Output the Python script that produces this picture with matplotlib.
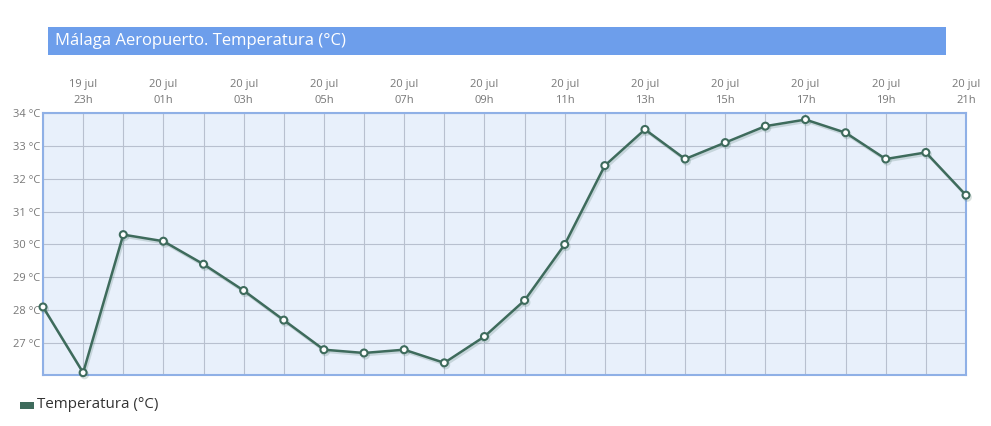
import numpy as np
import matplotlib.pyplot as plt
import matplotlib.patheffects as pe
from matplotlib.patches import Rectangle

# datos: temperatura horaria, 19 jul 22h -> 20 jul 21h
horas = ['22h', '23h', '00h', '01h', '02h', '03h', '04h', '05h', '06h', '07h', '08h', '09h',
         '10h', '11h', '12h', '13h', '14h', '15h', '16h', '17h', '18h', '19h', '20h', '21h']
dias = ['19 jul', '19 jul'] + ['20 jul'] * 22
temperatura = [28.1, 26.1, 30.3, 30.1, 29.4, 28.6, 27.7, 26.8, 26.7, 26.8, 26.4, 27.2,
               28.3, 30.0, 32.4, 33.5, 32.6, 33.1, 33.6, 33.8, 33.4, 32.6, 32.8, 31.5]
y_ticks = [27, 28, 29, 30, 31, 32, 33, 34]

plt.rcParams['font.family'] = ['Open Sans', 'DejaVu Sans']

W, H = 991, 426
fig = plt.figure(figsize=(W / 100, H / 100), dpi=100)

def px(x0, y0, x1, y1):
    # caja en pixeles -> fraccion de figura
    return [x0 / W, 1 - y1 / H, (x1 - x0) / W, (y1 - y0) / H]

ax = fig.add_axes(px(43, 113, 966, 375))
ax.set_facecolor('#e8f0fb')

x = np.arange(len(temperatura))
ax.plot(x, temperatura, color='#3e6b5c', lw=1.8, marker='o', ms=5,
        mfc='white', mec='#3e6b5c', mew=1.5, zorder=3, clip_on=False,
        path_effects=[pe.SimpleLineShadow(offset=(1, -1.5), shadow_color='#3e6b5c', alpha=0.2),
                      pe.Normal()])

ax.set_xlim(0, len(temperatura) - 1)
ax.set_ylim(26.03, 34)
ax.set_xticks(x, minor=True)
sel = x[1::2]
ax.set_xticks(sel)
ax.set_xticklabels([f'{dias[i]}\n{horas[i]}' for i in sel], fontsize=8, color='#777777',
                   linespacing=1.6)
ax.xaxis.tick_top()
ax.set_yticks(y_ticks)
ax.set_yticklabels([f'{v} °C' for v in y_ticks], fontsize=8, color='#777777')
ax.tick_params(axis='both', which='both', length=0, pad=2)
ax.tick_params(axis='x', pad=5)
ax.grid(True, which='both', color='#b8c0cf', lw=0.8)
ax.set_axisbelow(True)
for s in ax.spines.values():
    s.set_color('#8fb0e6')
    s.set_linewidth(1.5)

# barra de titulo
caja = px(48, 27, 946, 55)
fig.add_artist(Rectangle(caja[:2], caja[2], caja[3],
                         transform=fig.transFigure, color='#6d9eeb', lw=0))
fig.text(55 / W, 1 - 41 / H, 'Málaga Aeropuerto. Temperatura (°C)', color='white',
         fontsize=12, va='center', ha='left')

# leyenda
fig.add_artist(Rectangle(px(20, 402, 34, 409)[:2], 14 / W, 7 / H,
                         transform=fig.transFigure, color='#3e6b5c', lw=0))
fig.text(37 / W, 1 - 405 / H, 'Temperatura (°C)', color='#333333', fontsize=10.9,
         va='center', ha='left')

fig.savefig('out.png', dpi=100)
